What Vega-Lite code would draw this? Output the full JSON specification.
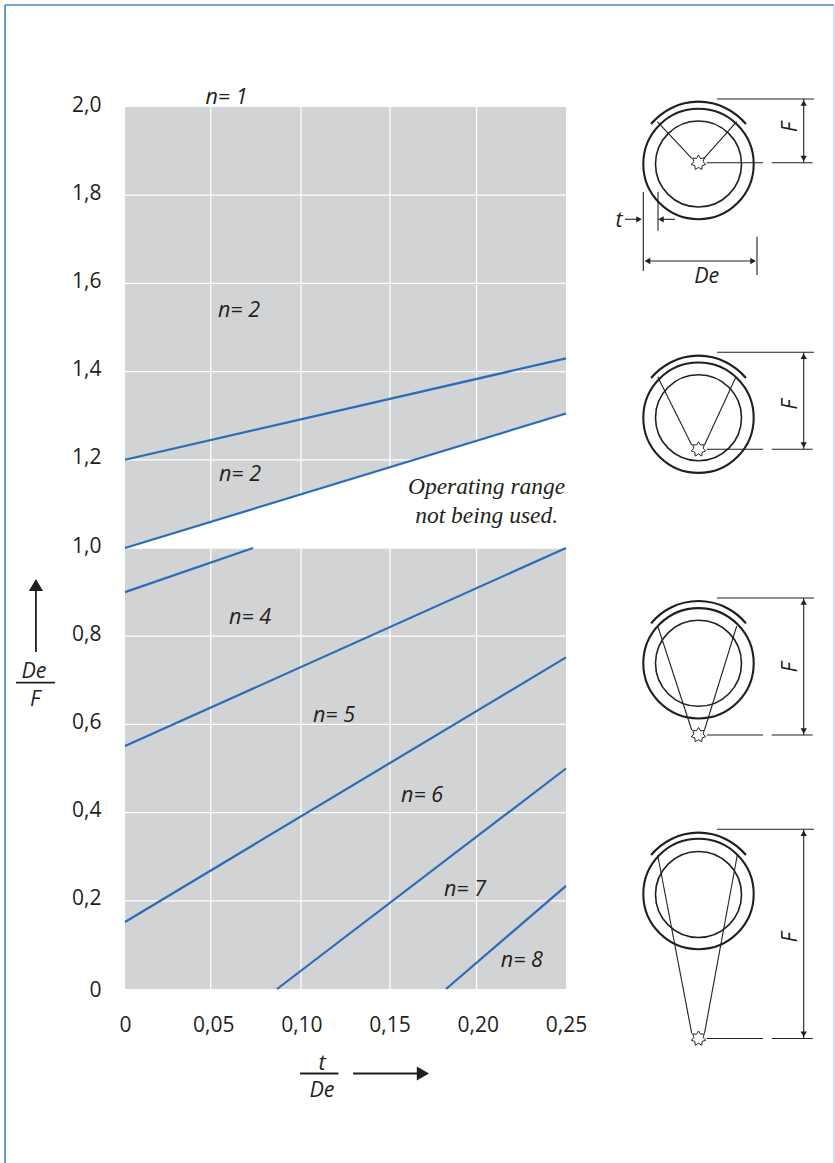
{"$schema":"https://vega.github.io/schema/vega-lite/v6.json","width":835,"height":1163,"autosize":{"type":"none"},"padding":0,"background":"white","config":{"view":{"stroke":null}},"resolve":{"scale":{"x":"independent","y":"independent"},"axis":{"x":"independent","y":"independent"}},"layer":[{"encoding":{"x":{"field":"t","type":"quantitative","scale":{"domain":[0,0.25],"range":[125,566],"nice":false,"zero":false},"axis":{"values":[0,0.05,0.1,0.15,0.2,0.25],"orient":"bottom","offset":-174,"domain":false,"ticks":false,"grid":false,"title":null,"labelPadding":42,"labelFont":"Open Sans","labelFontSize":21,"labelColor":"#231f20","labelFlush":false,"labelOverlap":false,"labelBaseline":"alphabetic","labelExpr":"datum.value==0?'0':replace(format(datum.value,'.2f'),'.',',')"}},"y":{"field":"v","type":"quantitative","scale":{"domain":[0,2],"range":[989,107],"nice":false,"zero":false},"axis":{"values":[0,0.2,0.4,0.6,0.8,1,1.2,1.4,1.6,1.8,2],"orient":"left","offset":-125,"domain":false,"ticks":false,"grid":false,"title":null,"labelPadding":24,"labelOffset":{"condition":{"test":"datum.value==0","value":1},"value":-2},"labelFont":"Open Sans","labelFontSize":21,"labelColor":"#231f20","labelFlush":false,"labelOverlap":false,"labelExpr":"datum.value==0?'0':replace(format(datum.value,'.1f'),'.',',')"}}},"layer":[{"data":{"values":[{"t":0,"t2":0.25,"v":0,"v2":2}]},"mark":{"type":"rect","color":"#d1d3d4"},"encoding":{"x2":{"field":"t2"},"y2":{"field":"v2"}}},{"data":{"values":[{"t":0.0486,"t2":0.0486,"v":0,"v2":2},{"t":0.0998,"t2":0.0998,"v":0,"v2":2},{"t":0.1502,"t2":0.1502,"v":0,"v2":2},{"t":0.1993,"t2":0.1993,"v":0,"v2":2},{"t":0,"t2":0.25,"v":0.2,"v2":0.2},{"t":0,"t2":0.25,"v":0.4,"v2":0.4},{"t":0,"t2":0.25,"v":0.6,"v2":0.6},{"t":0,"t2":0.25,"v":0.8,"v2":0.8},{"t":0,"t2":0.25,"v":1,"v2":1},{"t":0,"t2":0.25,"v":1.2,"v2":1.2},{"t":0,"t2":0.25,"v":1.4,"v2":1.4},{"t":0,"t2":0.25,"v":1.6,"v2":1.6},{"t":0,"t2":0.25,"v":1.8,"v2":1.8}]},"mark":{"type":"rule","color":"#ffffff","strokeWidth":1.3},"encoding":{"x2":{"field":"t2"},"y2":{"field":"v2"}}},{"data":{"values":[{"t":0,"v":1,"v2":1},{"t":0.25,"v":1.305,"v2":1}]},"mark":{"type":"area","color":"#ffffff","opacity":1},"encoding":{"y2":{"field":"v2"}}},{"data":{"values":[{"s":"a","t":0,"v":1.2},{"s":"a","t":0.25,"v":1.43},{"s":"b","t":0,"v":1},{"s":"b","t":0.25,"v":1.305},{"s":"c","t":0,"v":0.9},{"s":"c","t":0.0726,"v":1},{"s":"d","t":0,"v":0.551},{"s":"d","t":0.25,"v":1},{"s":"e","t":0,"v":0.152},{"s":"e","t":0.25,"v":0.752},{"s":"f","t":0.0862,"v":0},{"s":"f","t":0.25,"v":0.5},{"s":"g","t":0.182,"v":0},{"s":"g","t":0.25,"v":0.234}]},"mark":{"type":"line","color":"#2b6cb8","strokeWidth":2.2,"clip":false},"encoding":{"detail":{"field":"s"}}},{"data":{"values":[{"t":0.0575,"v":2.025,"l":"n= 1"},{"t":0.0646,"v":1.542,"l":"n= 2"},{"t":0.0652,"v":1.17,"l":"n= 2"},{"t":0.0709,"v":0.846,"l":"n= 4"},{"t":0.1185,"v":0.6236,"l":"n= 5"},{"t":0.1684,"v":0.442,"l":"n= 6"},{"t":0.1927,"v":0.229,"l":"n= 7"},{"t":0.225,"v":0.068,"l":"n= 8"},{"t":-0.0516,"v":0.7234,"l":"De"},{"t":-0.051,"v":0.6599,"l":"F"},{"t":0.1117,"v":-0.1644,"l":"t"},{"t":0.1117,"v":-0.2268,"l":"De"}]},"mark":{"type":"text","font":"Open Sans","fontStyle":"italic","fontSize":21.5,"color":"#231f20","align":"center","baseline":"middle","dy":2},"encoding":{"text":{"field":"l"}}},{"data":{"values":[{"t":0.205,"v":1.138,"l":"Operating range"},{"t":0.205,"v":1.0726,"l":"not being used."}]},"mark":{"type":"text","font":"Liberation Serif","fontStyle":"italic","fontSize":23.5,"color":"#231f20","align":"center","baseline":"middle"},"encoding":{"text":{"field":"l"}}},{"data":{"values":[{"t":-0.0618,"t2":-0.0397,"v":0.6946,"v2":0.6946},{"t":-0.0505,"t2":-0.0505,"v":0.7642,"v2":0.9048},{"t":0.0992,"t2":0.121,"v":-0.1916,"v2":-0.1916},{"t":0.1293,"t2":0.1672,"v":-0.1916,"v2":-0.1916}]},"mark":{"type":"rule","color":"#231f20","strokeWidth":1.8},"encoding":{"x2":{"field":"t2"},"y2":{"field":"v2"}}},{"data":{"values":[{"t":-0.0505,"v":0.9161,"s":"triangle-up"},{"t":0.1689,"v":-0.1916,"s":"triangle-right"}]},"mark":{"type":"point","filled":true,"size":200,"color":"#231f20","opacity":1},"encoding":{"shape":{"field":"s","type":"nominal","scale":null}}}]},{"encoding":{"x":{"field":"x","type":"quantitative","scale":{"domain":[-698.5,136.5],"range":[0,835],"nice":false,"zero":false},"axis":null},"y":{"field":"y","type":"quantitative","scale":{"domain":[0,1163],"range":[1163,0],"nice":false,"zero":false},"axis":null}},"layer":[{"data":{"values":[{"x":-693.5,"x2":135.5,"y":1158,"y2":1158},{"x":-693.5,"x2":-693.5,"y":1158,"y2":0}]},"mark":{"type":"rule","color":"#4a86c5","strokeWidth":1.6},"encoding":{"x2":{"field":"x2"},"y2":{"field":"y2"}}},{"data":{"values":[{"x":135.5,"x2":135.5,"y":1158,"y2":0}]},"mark":{"type":"rule","color":"#c6d6ea","strokeWidth":1.5},"encoding":{"x2":{"field":"x2"},"y2":{"field":"y2"}}},{"data":{"values":[{"x":0,"y":999},{"x":0,"y":745.3},{"x":0,"y":499.7},{"x":0,"y":269}]},"mark":{"type":"point","shape":"circle","size":12188,"filled":false,"color":"#231f20","strokeWidth":2.1,"opacity":1}},{"data":{"values":[{"x":0,"y":999},{"x":0,"y":745.3},{"x":0,"y":499.7},{"x":0,"y":268.5}]},"mark":{"type":"point","shape":"circle","size":7396,"filled":false,"color":"#231f20","strokeWidth":1.6,"opacity":1}},{"data":{"values":[{"x":0,"y":999.8},{"x":0,"y":745.8},{"x":0,"y":500.5},{"x":0,"y":268.8}]},"mark":{"type":"arc","innerRadius":61.5,"outerRadius":61.5,"theta":-0.881,"theta2":0.881,"fill":null,"stroke":"#231f20","strokeWidth":2.2}},{"data":{"values":[{"x":18.5,"x2":115.5,"y":1064,"y2":1064},{"x":8.2,"x2":64.5,"y":1000.3,"y2":1000.3},{"x":73.2,"x2":114.2,"y":1000.3,"y2":1000.3},{"x":105.2,"x2":105.2,"y":1064,"y2":1000.3},{"x":-6.8,"x2":-41.2,"y":1004.7,"y2":1041.3},{"x":5.5,"x2":38.2,"y":1004.7,"y2":1041.3},{"x":-55.2,"x2":-55.2,"y":971,"y2":892},{"x":-40.5,"x2":-40.5,"y":971,"y2":932.3},{"x":-73.5,"x2":-61.5,"y":943.7,"y2":943.7},{"x":-23.5,"x2":-35.5,"y":943.7,"y2":943.7},{"x":58.5,"x2":58.5,"y":926.3,"y2":888},{"x":-53,"x2":56.5,"y":902,"y2":902},{"x":18.5,"x2":115.5,"y":810.7,"y2":810.7},{"x":8.2,"x2":64.5,"y":713.7,"y2":713.7},{"x":73.2,"x2":114.2,"y":713.7,"y2":713.7},{"x":105.2,"x2":105.2,"y":810.7,"y2":713.7},{"x":-40.8,"x2":-6.8,"y":786.3,"y2":718},{"x":37.5,"x2":6,"y":786.3,"y2":718},{"x":18.5,"x2":115.5,"y":565,"y2":565},{"x":8.2,"x2":64.5,"y":428,"y2":428},{"x":73.2,"x2":114.2,"y":428,"y2":428},{"x":105.2,"x2":105.2,"y":565,"y2":428},{"x":-40.8,"x2":-6.8,"y":537,"y2":433},{"x":38.2,"x2":6,"y":537,"y2":433},{"x":18.5,"x2":115.5,"y":333.7,"y2":333.7},{"x":8.2,"x2":64.5,"y":124.5,"y2":124.5},{"x":73.2,"x2":114.2,"y":124.5,"y2":124.5},{"x":105.2,"x2":105.2,"y":333.7,"y2":124.5},{"x":-40.8,"x2":-6.8,"y":308,"y2":129.7},{"x":38.8,"x2":6,"y":308,"y2":129.7}]},"mark":{"type":"rule","color":"#231f20","strokeWidth":1.1},"encoding":{"x2":{"field":"x2"},"y2":{"field":"y2"}}},{"data":{"values":[{"x":105.2,"y":1060,"s":"triangle-up"},{"x":105.2,"y":1004.5,"s":"triangle-down"},{"x":105.2,"y":806.7,"s":"triangle-up"},{"x":105.2,"y":718,"s":"triangle-down"},{"x":105.2,"y":561,"s":"triangle-up"},{"x":105.2,"y":432,"s":"triangle-down"},{"x":105.2,"y":329.7,"s":"triangle-up"},{"x":105.2,"y":128.7,"s":"triangle-down"},{"x":-59.5,"y":943.7,"s":"triangle-right"},{"x":-37.5,"y":943.7,"s":"triangle-left"},{"x":-51,"y":902,"s":"triangle-left"},{"x":54.5,"y":902,"s":"triangle-right"}]},"mark":{"type":"point","filled":true,"size":40,"color":"#231f20","opacity":1},"encoding":{"shape":{"field":"s","type":"nominal","scale":null}}},{"data":{"values":[{"x":0,"y":1000.3},{"x":0,"y":713.7},{"x":0,"y":428},{"x":0,"y":124.5}]},"mark":{"type":"point","shape":"M0,-1L.27,-.56L.78,-.62L.6,-.14L.97,.22L.49,.39L.43,.9L0,.62L-.43,.9L-.49,.39L-.97,.22L-.6,-.14L-.78,-.62L-.27,-.56Z","size":225,"filled":true,"fill":"#ffffff","stroke":"#231f20","strokeWidth":1,"opacity":1}},{"data":{"values":[{"x":-79.5,"y":944,"l":"t"},{"x":8.2,"y":888,"l":"De"}]},"mark":{"type":"text","font":"Open Sans","fontStyle":"italic","fontSize":21.5,"color":"#231f20","align":"center","baseline":"middle","dy":2},"encoding":{"text":{"field":"l"}}},{"data":{"values":[{"x":92.2,"y":1034,"l":"F"},{"x":92.2,"y":756.3,"l":"F"},{"x":92.2,"y":493.7,"l":"F"},{"x":92.2,"y":223.7,"l":"F"}]},"mark":{"type":"text","font":"Open Sans","fontStyle":"italic","fontSize":21.5,"angle":270,"color":"#231f20","align":"center","baseline":"middle","dx":2},"encoding":{"text":{"field":"l"}}}]}]}
